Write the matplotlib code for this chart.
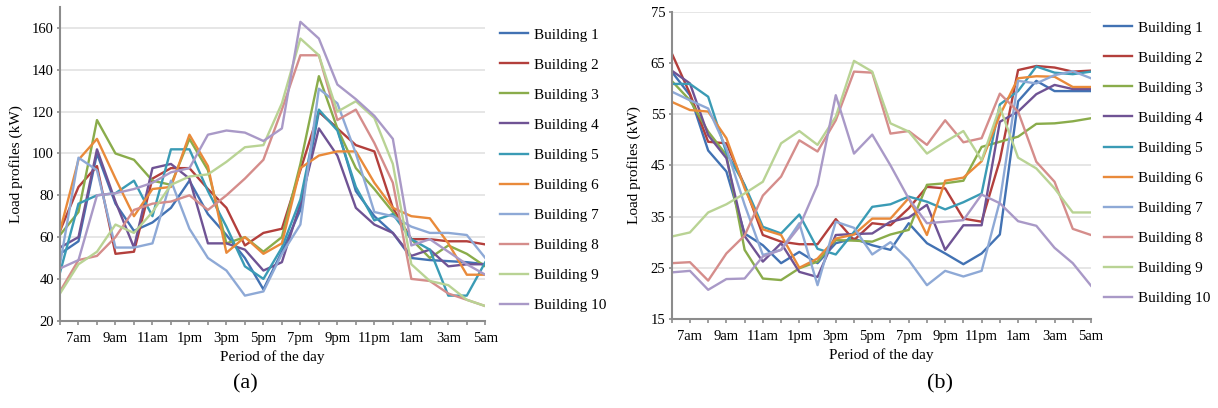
import matplotlib
matplotlib.use('Agg')
import matplotlib.pyplot as plt
import numpy as np

plt.rcParams['font.family'] = ['Liberation Serif', 'DejaVu Serif']

# hourly points from 6am to 5am, labels every second hour
hours = ['6am', '7am', '8am', '9am', '10am', '11am', '12pm', '1pm', '2pm', '3pm', '4pm', '5pm',
         '6pm', '7pm', '8pm', '9pm', '10pm', '11pm', '12am', '1am', '2am', '3am', '4am', '5am']
buildings = ['Building %d' % k for k in range(1, 11)]

# panel (a) load profiles (kW)
a_b1 = [52, 58, 100, 76, 63, 67, 74, 87, 71, 61, 50, 35, 53, 73, 120, 112, 82, 70, 62, 50, 49, 48.5, 48, 47]
a_b2 = [63, 84, 94, 52, 53, 88, 93, 93, 83, 74, 56, 62, 64, 92, 120, 112, 104, 101, 74, 59, 59, 58, 58, 56.5]
a_b3 = [61, 72, 116, 100, 97, 87, 85, 107, 92, 57, 60, 53, 60, 95, 137, 112, 93, 83, 72, 59, 50, 56, 52, 46]
a_b4 = [55, 60, 102, 77, 55, 93, 95, 88, 57, 57, 54, 44, 48, 76, 112, 99, 74, 66, 62, 51, 54, 46, 47, 47]
a_b5 = [43, 76, 80, 81, 87, 70, 102, 102, 82, 65, 46, 40, 55, 78, 121, 111, 84, 68, 71, 59, 54, 32, 32, 48]
a_b6 = [63, 97, 107, 88, 70, 83, 84, 109, 94, 52.5, 60, 52, 57, 93, 99, 101, 101, 86, 74, 70, 69, 57, 42, 42]
a_b7 = [47, 98, 92, 55, 55, 57, 87, 64, 50, 44, 32, 34, 52, 66, 131, 124, 100, 72, 70, 65, 62, 62, 61, 50]
a_b8 = [34, 49, 51, 60, 73, 76, 77, 80, 73, 80, 88, 97, 121, 147, 147, 116, 121, 105, 86, 40, 39, 33, 30, 27]
a_b9 = [33, 47, 53, 66, 62, 72, 85, 89, 90, 96, 103, 104, 124, 155, 147, 120, 125, 117, 95, 47, 39, 37, 30, 27]
a_b10 = [45, 49, 80, 81, 83, 86, 91, 93, 109, 111, 110, 106, 112, 163, 155, 133, 126, 118, 107, 56, 59, 53, 47, 42]

# panel (b) load profiles (kW)
b_b1 = [63.3, 58.7, 47.9, 43.8, 31.7, 29.4, 25.9, 28.1, 25.9, 29.8, 30.7, 29.4, 28.5, 33.7, 29.8, 27.8, 25.7, 27.8, 31.5, 57.5, 61.5, 59.5, 59.5, 59.5]
b_b2 = [66.9, 59, 49.6, 49.3, 41, 31.4, 30.1, 29.6, 29.6, 34.5, 30.4, 33.7, 33.3, 36.6, 40.8, 40.5, 34.6, 34, 46, 63.6, 64.4, 64.1, 63.3, 63.5]
b_b3 = [61.5, 57.7, 51.6, 47, 28.5, 22.9, 22.6, 24.9, 26.2, 30.4, 30.3, 30.1, 31.5, 32.4, 41.2, 41.5, 42, 48.6, 49.6, 50.6, 53.1, 53.2, 53.6, 54.2]
b_b4 = [63.5, 61, 50.9, 46.4, 31.2, 26.2, 29.8, 24.2, 23.2, 31.4, 31.6, 31.7, 34, 34.8, 37.3, 28.5, 33.3, 33.3, 53.5, 55.5, 58.9, 60.7, 59.9, 59.9]
b_b5 = [60.9, 60.9, 58.4, 47.5, 41.2, 33, 31.7, 35.4, 28.7, 27.6, 32, 36.9, 37.4, 38.9, 37.9, 36.4, 37.8, 39.5, 56.9, 59.5, 64.3, 63.1, 62.8, 63.3]
b_b6 = [57.4, 55.8, 55.5, 50.3, 40.5, 32.5, 31.4, 25, 26.8, 30.7, 31.5, 34.6, 34.6, 38.6, 31.4, 42, 42.6, 45.8, 54.8, 62, 62.4, 62.3, 60.3, 60.3]
b_b7 = [59.4, 57.7, 56.1, 48.3, 37.3, 27.5, 28.5, 33.7, 21.6, 34, 32.8, 27.6, 30, 26.5, 21.6, 24.4, 23.3, 24.4, 38, 61.5, 61, 62.6, 63.4, 62]
b_b8 = [25.9, 26.1, 22.5, 27.8, 31.3, 39.1, 42.8, 49.9, 47.7, 53.8, 63.3, 63.1, 51.2, 51.7, 49, 53.8, 49.5, 50.3, 59, 55.5, 45.7, 41.8, 32.6, 31.4]
b_b9 = [31.1, 31.9, 35.8, 37.4, 39.5, 41.8, 49.3, 51.7, 49, 54.5, 65.4, 63.3, 53.2, 51.6, 47.3, 49.6, 51.7, 46, 56.4, 46.5, 44.4, 40.5, 35.8, 35.8]
b_b10 = [24.1, 24.4, 20.7, 22.8, 22.9, 27.2, 28.5, 33, 41.2, 58.7, 47.3, 51, 45, 38.5, 33.7, 34, 34.3, 39.3, 37.6, 34.1, 33.2, 28.9, 25.9, 21.5]

colors = ['#4272B3', '#B33F3C', '#8AAC4B', '#6F5394', '#3A9BB5',
          '#E98A3A', '#8EA9D6', '#D58D8B', '#B9D394', '#A999C7']

W, H = 1218, 408
fig = plt.figure(figsize=(W / 100, H / 100), dpi=100)


def draw_panel(rect, series, ylim, yticks, leg_xy, tag, tag_xy, ylab_x, xlab_y):
    ax = fig.add_axes(rect)
    x = np.arange(len(hours))
    for vals, c, name in zip(series, colors, buildings):
        ax.plot(x, vals, color=c, lw=1.7, label=name)
    ax.set_xlim(0, len(hours) - 1)
    ax.set_ylim(*ylim)
    ax.set_yticks(yticks)
    ax.set_xticks(x)
    # label every second hour, starting at 7am
    ax.set_xticklabels(['' if i % 2 == 0 else h for i, h in enumerate(hours)])
    ax.grid(axis='y', color='#E4E4E4', lw=1.3)
    ax.set_axisbelow(True)
    for s in ['top', 'right']:
        ax.spines[s].set_visible(False)
    for s in ['left', 'bottom']:
        ax.spines[s].set_color('#8C8C8C')
        ax.spines[s].set_linewidth(1.5)
    ax.tick_params(axis='x', length=3, width=1.2, color='#8C8C8C', pad=5, labelsize=10.5)
    ax.tick_params(axis='y', length=2.5, width=1.2, color='#8C8C8C', pad=2, labelsize=10.5)
    fig.text(ylab_x / W, rect[1] + rect[3] / 2, 'Load profiles (kW)', rotation=90,
             ha='center', va='center', fontsize=11)
    fig.text(rect[0] + rect[2] / 2, 1 - xlab_y / H, 'Period of the day',
             ha='center', va='center', fontsize=11)
    fig.text(tag_xy[0] / W, 1 - tag_xy[1] / H, tag, ha='center', va='center', fontsize=16)
    ax.legend(loc='upper left', bbox_to_anchor=(leg_xy[0] / W, 1 - leg_xy[1] / H),
              bbox_transform=fig.transFigure, frameon=False, fontsize=11,
              borderpad=0, borderaxespad=0, handlelength=1.85, handletextpad=0.35,
              labelspacing=1.07)
    return ax


draw_panel([60 / W, 1 - 320.7 / H, 425.3 / W, 313.5 / H],
           [a_b1, a_b2, a_b3, a_b4, a_b5, a_b6, a_b7, a_b8, a_b9, a_b10],
           (20, 170), np.arange(20, 161, 20), (500, 28), '(a)', (245, 384), 16, 357)
draw_panel([671.7 / W, 1 - 319 / H, 419.3 / W, 307.3 / H],
           [b_b1, b_b2, b_b3, b_b4, b_b5, b_b6, b_b7, b_b8, b_b9, b_b10],
           (15, 75), np.arange(15, 76, 10), (1104, 21), '(b)', (940, 384), 634, 355)

fig.savefig('out.png', dpi=100)
